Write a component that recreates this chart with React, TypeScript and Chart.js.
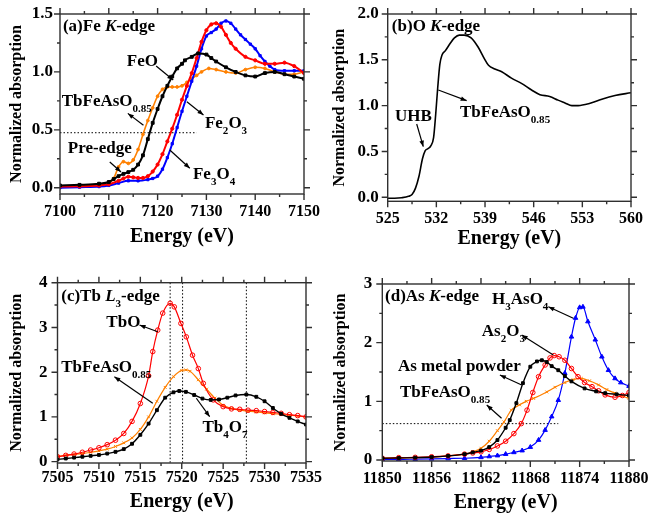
import React, { useEffect, useRef } from 'react';
import { Chart, registerables } from 'chart.js';
Chart.register(...registerables);

const FONT = '"Liberation Serif", "Times New Roman", serif';
const BLACK = '#000000';
const RED = '#ff0000';
const BLUE = '#0000ff';
const ORANGE = '#ff8000';

// ---------- Panel (a) Fe K-edge ----------
const aXTicks = [7100, 7110, 7120, 7130, 7140, 7150];
const aXMinor = [7105, 7115, 7125, 7135, 7145];
const aYTicks = [0.0, 0.5, 1.0, 1.5];
const aYMinor = [0.25, 0.75, 1.25];
const aFeOX = [7100, 7104, 7108, 7110, 7111, 7112, 7113, 7114, 7115, 7116, 7117, 7118, 7119, 7120, 7121, 7122, 7123, 7124, 7125, 7125.6, 7127, 7128.3, 7130, 7131, 7132, 7134, 7136, 7138, 7140, 7142, 7144, 7146, 7148, 7150];
const aFeOY = [0.02, 0.025, 0.035, 0.05, 0.075, 0.10, 0.12, 0.135, 0.155, 0.20, 0.28, 0.42, 0.56, 0.68, 0.79, 0.88, 0.96, 1.03, 1.07, 1.10, 1.13, 1.16, 1.15, 1.12, 1.09, 1.04, 1.0, 0.97, 0.96, 0.99, 1.0, 0.98, 0.96, 0.94];
const aTbX = [7100, 7104, 7108, 7110, 7111, 7112, 7113, 7114, 7115, 7116, 7117, 7118, 7119, 7120, 7121, 7122, 7123, 7124, 7125, 7126, 7127, 7128, 7129, 7130.5, 7132, 7134, 7136, 7138, 7140, 7142, 7144, 7146, 7148, 7150];
const aTbY = [0.01, 0.015, 0.025, 0.04, 0.08, 0.18, 0.225, 0.21, 0.24, 0.33, 0.46, 0.58, 0.69, 0.79, 0.85, 0.87, 0.87, 0.87, 0.88, 0.91, 0.94, 0.97, 1.0, 1.03, 1.02, 1.0, 0.99, 1.02, 1.04, 1.03, 1.0, 0.98, 0.98, 1.0];
const aFe2O3X = [7100, 7104, 7108, 7110, 7112, 7113, 7114, 7115, 7116, 7117, 7118, 7119, 7120, 7121, 7122, 7123, 7124, 7125, 7126, 7127, 7128, 7129, 7130, 7131, 7132, 7133, 7134, 7135, 7136, 7138, 7140, 7142, 7144, 7146, 7148, 7150];
const aFe2O3Y = [0.01, 0.012, 0.02, 0.03, 0.06, 0.08, 0.095, 0.09, 0.085, 0.085, 0.1, 0.14, 0.2, 0.29, 0.4, 0.51, 0.63, 0.76, 0.88, 0.99, 1.12, 1.26, 1.36, 1.41, 1.42, 1.39, 1.32, 1.25, 1.2, 1.13, 1.1, 1.07, 1.07, 1.08, 1.05, 0.99];
const aFe3O4X = [7100, 7104, 7108, 7110, 7112, 7114, 7116, 7118, 7119, 7120, 7121, 7122, 7123, 7124, 7125, 7126, 7127, 7128, 7129, 7130, 7131, 7132, 7133, 7134, 7135, 7136, 7137, 7138, 7139, 7140, 7141, 7142, 7143, 7144, 7146, 7148, 7150];
const aFe3O4Y = [0.0, 0.005, 0.01, 0.02, 0.04, 0.06, 0.06, 0.07, 0.08, 0.1, 0.16, 0.26, 0.38, 0.52, 0.66, 0.79, 0.92, 1.05, 1.2, 1.31, 1.34, 1.37, 1.42, 1.44, 1.42, 1.37, 1.32, 1.28, 1.24, 1.2, 1.14, 1.09, 1.05, 1.02, 1.01, 1.01, 1.01];

// ---------- Panel (b) O K-edge ----------
const bXTicks = [525, 532, 539, 546, 553, 560];
const bXMinor = [528.5, 535.5, 542.5, 549.5, 556.5];
const bYTicks = [0.0, 0.5, 1.0, 1.5, 2.0];
const bYMinor = [0.25, 0.75, 1.25, 1.75];
const bX = [525, 526, 527, 528, 528.5, 529, 529.5, 530, 530.4, 530.8, 531.2, 531.6, 531.9, 532.2, 532.5, 532.8, 533.3, 534, 534.6, 535.3, 536, 537, 538, 539, 539.5, 540.4, 541.4, 542.8, 544.3, 545.7, 546.9, 548.3, 549.5, 550.5, 551.5, 552.4, 553.9, 555.8, 557.7, 560];
const bY = [-0.01, -0.01, -0.005, 0.01, 0.03, 0.1, 0.23, 0.42, 0.51, 0.53, 0.56, 0.65, 0.9, 1.2, 1.45, 1.55, 1.6, 1.68, 1.74, 1.77, 1.77, 1.74, 1.64, 1.5, 1.44, 1.4, 1.37, 1.3, 1.24, 1.17, 1.12, 1.1, 1.06, 1.03, 1.0, 1.0, 1.02, 1.07, 1.11, 1.14];

// ---------- Panel (c) Tb L3-edge ----------
const cXTicks = [7505, 7510, 7515, 7520, 7525, 7530, 7535];
const cXMinor = [7507.5, 7512.5, 7517.5, 7522.5, 7527.5, 7532.5];
const cYTicks = [0, 1, 2, 3, 4];
const cYMinor = [0.5, 1.5, 2.5, 3.5];
const cTbOX = [7505, 7506, 7507, 7508, 7509, 7510, 7511, 7512, 7513, 7514, 7515, 7516, 7516.5, 7517.1, 7517.7, 7518.6, 7519.1, 7519.9, 7520.55, 7521.3, 7522, 7522.6, 7523.8, 7525, 7526, 7527, 7528, 7529, 7530, 7531, 7532, 7533, 7534, 7535];
const cTbOY = [0.11, 0.14, 0.17, 0.21, 0.26, 0.31, 0.38, 0.48, 0.63, 0.9, 1.3, 1.92, 2.46, 2.94, 3.32, 3.54, 3.46, 3.09, 2.79, 2.38, 2.08, 1.75, 1.38, 1.23, 1.18, 1.17, 1.15, 1.14, 1.12, 1.1, 1.08, 1.05, 1.03, 1.0];
const cTbFeX = [7505, 7506, 7507, 7508, 7509, 7510, 7511, 7512, 7513, 7514, 7515, 7516, 7517, 7518, 7519, 7520, 7520.5, 7521, 7522, 7523, 7524, 7525, 7526, 7527, 7528, 7529, 7530, 7531, 7532, 7533, 7534, 7535];
const cTbFeY = [0.12, 0.14, 0.16, 0.18, 0.21, 0.24, 0.28, 0.34, 0.42, 0.53, 0.72, 1.0, 1.35, 1.66, 1.9, 2.04, 2.05, 2.02, 1.83, 1.62, 1.42, 1.26, 1.19, 1.15, 1.13, 1.11, 1.09, 1.07, 1.06, 1.04, 1.02, 1.0];
const cTb4O7X = [7505, 7506, 7507, 7508, 7509, 7510, 7511, 7512, 7513, 7514, 7515, 7516, 7517, 7518, 7519, 7519.7, 7520.5, 7521.5, 7522.5, 7523.5, 7524.5, 7525.5, 7526.5, 7527.8, 7529, 7530, 7531, 7532, 7533, 7534, 7535];
const cTb4O7Y = [0.05, 0.07, 0.09, 0.11, 0.13, 0.15, 0.18, 0.22, 0.28, 0.4, 0.6, 0.85, 1.15, 1.43, 1.55, 1.58, 1.56, 1.49, 1.41, 1.38, 1.39, 1.43, 1.48, 1.5, 1.45, 1.35, 1.2, 1.07, 0.98, 0.9, 0.83];

// ---------- Panel (d) As K-edge ----------
const dXTicks = [11850, 11856, 11862, 11868, 11874, 11880];
const dXMinor = [11853, 11859, 11865, 11871, 11877];
const dYTicks = [0, 1, 2, 3];
const dYMinor = [0.5, 1.5, 2.5];
const dH3X = [11850, 11852, 11854, 11856, 11858, 11860, 11862, 11863, 11864, 11865, 11866, 11867, 11868, 11869, 11869.8, 11870.6, 11871.4, 11872.2, 11873, 11873.5, 11874, 11874.4, 11875, 11875.9, 11876.7, 11877.5, 11878.3, 11879, 11880];
const dH3Y = [0.01, 0.01, 0.015, 0.02, 0.025, 0.03, 0.045, 0.06, 0.075, 0.1, 0.13, 0.16, 0.22, 0.34, 0.51, 0.74, 1.02, 1.48, 2.1, 2.42, 2.6, 2.61, 2.36, 2.05, 1.76, 1.53, 1.39, 1.32, 1.26];
const dAs2O3X = [11850, 11852, 11854, 11856, 11858, 11860, 11861, 11862, 11863, 11864, 11865, 11866, 11866.9, 11867.6, 11868.3, 11869, 11869.8, 11870.4, 11870.9, 11871.5, 11872.2, 11873, 11873.8, 11874.6, 11875.5, 11876.3, 11877.1, 11878.3, 11879.2, 11880];
const dAs2O3Y = [0.03, 0.04, 0.045, 0.055, 0.07, 0.1, 0.12, 0.14, 0.18, 0.24, 0.32, 0.45, 0.62, 0.85, 1.15, 1.42, 1.62, 1.74, 1.78, 1.76, 1.7, 1.56, 1.42, 1.32, 1.25, 1.18, 1.11, 1.07, 1.1, 1.15];
const dMetalX = [11850, 11852, 11854, 11856, 11858, 11860, 11861, 11862, 11863, 11864, 11865, 11865.5, 11866.3, 11867.1, 11868, 11868.8, 11869.4, 11870, 11870.6, 11871.4, 11872.2, 11873, 11874.6, 11876, 11877.1, 11878.5, 11880];
const dMetalY = [0.03, 0.035, 0.04, 0.05, 0.07, 0.1, 0.13, 0.16, 0.22, 0.34, 0.55, 0.68, 0.97, 1.31, 1.59, 1.68, 1.7, 1.67, 1.6, 1.53, 1.43, 1.34, 1.22, 1.17, 1.14, 1.12, 1.1];
const dTbX = [11850, 11854, 11856, 11858, 11860, 11861, 11862, 11863, 11864, 11864.8, 11865.7, 11866.7, 11867.5, 11868.4, 11870, 11871, 11872.2, 11873.2, 11874.2, 11875.2, 11876.3, 11877.3, 11878.3, 11879.2, 11880];
const dTbY = [0.03, 0.04, 0.05, 0.07, 0.1, 0.14, 0.2, 0.32, 0.5, 0.65, 0.85, 0.94, 1.0, 1.05, 1.16, 1.24, 1.32, 1.37, 1.39, 1.35, 1.28, 1.2, 1.14, 1.09, 1.05];

type Part = [string, 'n' | 'i' | 's'];
type Label = { x: number; y: number; parts: Part[]; size?: number };
type Arrow = { x1: number; y1: number; x2: number; y2: number; head: 'start' | 'end' };
type Series = { x: number[]; y: number[]; color: string; style: string; r: number; open?: boolean; w: number };
type Panel = {
  box: [number, number, number, number];
  area: [number, number, number, number];
  xMin: number; xMax: number; yMin: number; yMax: number;
  xMajor: number[]; xMinor: number[]; yMajor: number[]; yMinor: number[]; yDec: number;
  xTitleY: number; yTitleX: number; xLabPad: number; yLabPad: number;
  series: Series[]; labels: Label[]; arrows: Arrow[];
  hLines: { y: number; x1: number; x2: number }[]; vLines: number[];
};

const TBFE: Part[] = [['TbFeAsO', 'n'], ['0.85', 's']];

const panels: Panel[] = [
  {
    box: [0, 0, 325, 260], area: [60, 14, 304, 194],
    xMin: 7100, xMax: 7150, yMin: -0.054, yMax: 1.5,
    xMajor: aXTicks, xMinor: aXMinor, yMajor: aYTicks, yMinor: aYMinor, yDec: 1,
    xTitleY: 237, yTitleX: 16.7, xLabPad: 8, yLabPad: 7,
    series: [
      { x: aFeOX, y: aFeOY, color: BLACK, style: 'rect', r: 2, w: 2 },
      { x: aFe2O3X, y: aFe2O3Y, color: RED, style: 'circle', r: 1.6, w: 2 },
      { x: aFe3O4X, y: aFe3O4Y, color: BLUE, style: 'rect', r: 1.6, w: 2 },
      { x: aTbX, y: aTbY, color: ORANGE, style: 'circle', r: 1.4, w: 1.6 },
    ],
    labels: [
      { x: 7100.6, y: 1.405, parts: [['(a)Fe ', 'n'], ['K', 'i'], ['-edge', 'n']] },
      { x: 7113.7, y: 1.103, parts: [['FeO', 'n']] },
      { x: 7100.35, y: 0.757, parts: TBFE },
      { x: 7129.7, y: 0.567, parts: [['Fe', 'n'], ['2', 's'], ['O', 'n'], ['3', 's']] },
      { x: 7127.25, y: 0.127, parts: [['Fe', 'n'], ['3', 's'], ['O', 'n'], ['4', 's']] },
      { x: 7101.6, y: 0.351, parts: [['Pre-edge', 'n']] },
    ],
    arrows: [
      { x1: 7119.7, y1: 1.051, x2: 7123.2, y2: 0.93, head: 'end' },
      { x1: 7113.9, y1: 0.642, x2: 7117.1, y2: 0.54, head: 'start' },
      { x1: 7126.0, y1: 0.743, x2: 7129.4, y2: 0.628, head: 'end' },
      { x1: 7122.5, y1: 0.326, x2: 7126.6, y2: 0.168, head: 'end' },
      { x1: 7110.2, y1: 0.222, x2: 7112.5, y2: 0.136, head: 'end' },
    ],
    hLines: [{ y: 0.475, x1: 7100, x2: 7128 }], vLines: [],
  },
  {
    box: [325, 0, 324, 260], area: [387.7, 14, 631, 201.3],
    xMin: 525, xMax: 560, yMin: -0.044, yMax: 2.0,
    xMajor: bXTicks, xMinor: bXMinor, yMajor: bYTicks, yMinor: bYMinor, yDec: 1,
    xTitleY: 239, yTitleX: 340, xLabPad: 8, yLabPad: 9,
    series: [{ x: bX, y: bY, color: BLACK, style: 'circle', r: 0, w: 1.6 }],
    labels: [
      { x: 525.6, y: 1.88, parts: [['(b)O ', 'n'], ['K', 'i'], ['-edge', 'n']] },
      { x: 526.05, y: 0.898, parts: [['UHB', 'n']] },
      { x: 535.4, y: 0.934, parts: TBFE },
    ],
    arrows: [
      { x1: 529.17, y1: 0.80, x2: 530.12, y2: 0.552, head: 'end' },
      { x1: 532.28, y1: 1.171, x2: 536.36, y2: 1.054, head: 'end' },
    ],
    hLines: [], vLines: [],
  },
  {
    box: [0, 260, 325, 259], area: [57.5, 282.7, 306, 463],
    xMin: 7505, xMax: 7535, yMin: -0.03, yMax: 4,
    xMajor: cXTicks, xMinor: cXMinor, yMajor: cYTicks, yMinor: cYMinor, yDec: 0,
    xTitleY: 501.5, yTitleX: 16.7, xLabPad: 5, yLabPad: 10,
    series: [
      { x: cTb4O7X, y: cTb4O7Y, color: BLACK, style: 'rect', r: 2, w: 1.4 },
      { x: cTbOX, y: cTbOY, color: RED, style: 'circle', r: 2.3, open: true, w: 1.2 },
      { x: cTbFeX, y: cTbFeY, color: ORANGE, style: 'crossRot', r: 2, w: 1.2 },
    ],
    labels: [
      { x: 7505.45, y: 3.725, parts: [['(c)Tb ', 'n'], ['L', 'i'], ['3', 's'], ['-edge', 'n']] },
      { x: 7510.9, y: 3.128, parts: [['TbO', 'n']] },
      { x: 7505.45, y: 2.123, parts: TBFE },
      { x: 7522.5, y: 0.782, parts: [['Tb', 'n'], ['4', 's'], ['O', 'n'], ['7', 's']] },
    ],
    arrows: [
      { x1: 7514.9, y1: 3.054, x2: 7517.1, y2: 2.905, head: 'start' },
      { x1: 7511.87, y1: 1.899, x2: 7516.5, y2: 1.305, head: 'start' },
      { x1: 7521.76, y1: 1.417, x2: 7523.37, y2: 1.006, head: 'end' },
    ],
    hLines: [], vLines: [7518.6, 7520.1, 7527.8],
  },
  {
    box: [325, 260, 324, 259], area: [382.3, 284, 629, 461],
    xMin: 11850, xMax: 11880, yMin: -0.017, yMax: 3,
    xMajor: dXTicks, xMinor: dXMinor, yMajor: dYTicks, yMinor: dYMinor, yDec: 0,
    xTitleY: 502.5, yTitleX: 340.5, xLabPad: 8, yLabPad: 10,
    series: [
      { x: dMetalX, y: dMetalY, color: BLACK, style: 'rect', r: 2, w: 1.4 },
      { x: dAs2O3X, y: dAs2O3Y, color: RED, style: 'circle', r: 2.3, open: true, w: 1.2 },
      { x: dTbX, y: dTbY, color: ORANGE, style: 'crossRot', r: 2, w: 1.2 },
      { x: dH3X, y: dH3Y, color: BLUE, style: 'triangle', r: 2.6, w: 1.2 },
    ],
    labels: [
      { x: 11850.33, y: 2.81, parts: [['(d)As ', 'n'], ['K', 'i'], ['-edge', 'n']] },
      { x: 11863.34, y: 2.76, parts: [['H', 'n'], ['3', 's'], ['AsO', 'n'], ['4', 's']] },
      { x: 11862.1, y: 2.216, parts: [['As', 'n'], ['2', 's'], ['O', 'n'], ['3', 's']] },
      { x: 11851.9, y: 1.62, parts: [['As metal powder', 'n']] },
      { x: 11852.15, y: 1.164, parts: TBFE },
    ],
    arrows: [
      { x1: 11870.19, y1: 2.613, x2: 11873.23, y2: 2.415, head: 'start' },
      { x1: 11866.95, y1: 2.13, x2: 11870.8, y2: 1.79, head: 'start' },
      { x1: 11864.3, y1: 1.449, x2: 11866.95, y2: 1.278, head: 'start' },
      { x1: 11862.7, y1: 0.937, x2: 11864.5, y2: 0.711, head: 'start' },
    ],
    hLines: [{ y: 0.62, x1: 11850, x2: 11871.4 }], vLines: [],
  },
];

function drawRich(ctx: CanvasRenderingContext2D, x: number, yMid: number, parts: Part[], size: number) {
  let cx = x;
  const base = yMid + size * 0.33;
  ctx.textBaseline = 'alphabetic';
  ctx.textAlign = 'left';
  ctx.fillStyle = '#000';
  for (const [t, s] of parts) {
    const fs = s === 's' ? size * 0.65 : size;
    ctx.font = `${s === 'i' ? 'italic ' : ''}bold ${fs}px ${FONT}`;
    const dy = s === 's' ? size * 0.35 : 0;
    ctx.fillText(t, cx, base + dy);
    cx += ctx.measureText(t).width;
  }
}

function makePlugin(p: Panel) {
  return {
    id: 'deco',
    beforeDatasetsDraw(chart: any) {
      const { ctx, chartArea: a, scales } = chart;
      const xs = scales.x, ys = scales.y;
      ctx.save();
      ctx.strokeStyle = '#000';
      ctx.lineWidth = 1;
      ctx.setLineDash([1.5, 2]);
      for (const h of p.hLines) {
        const py = ys.getPixelForValue(h.y);
        ctx.beginPath();
        ctx.moveTo(xs.getPixelForValue(h.x1), py);
        ctx.lineTo(xs.getPixelForValue(h.x2), py);
        ctx.stroke();
      }
      for (const v of p.vLines) {
        const px = xs.getPixelForValue(v);
        ctx.beginPath();
        ctx.moveTo(px, a.top);
        ctx.lineTo(px, a.bottom);
        ctx.stroke();
      }
      ctx.restore();
    },
    afterDraw(chart: any) {
      const { ctx, chartArea: a, scales } = chart;
      const xs = scales.x, ys = scales.y;
      ctx.save();
      ctx.strokeStyle = '#303030';
      ctx.lineWidth = 1.4;
      ctx.setLineDash([]);
      ctx.strokeRect(a.left, a.top, a.right - a.left, a.bottom - a.top);
      const tickX = (v: number, len: number) => {
        const px = xs.getPixelForValue(v);
        ctx.beginPath();
        ctx.moveTo(px, a.bottom); ctx.lineTo(px, a.bottom + len);
        ctx.moveTo(px, a.top); ctx.lineTo(px, a.top - len);
        ctx.stroke();
      };
      const tickY = (v: number, len: number) => {
        const py = ys.getPixelForValue(v);
        ctx.beginPath();
        ctx.moveTo(a.left, py); ctx.lineTo(a.left - len, py);
        ctx.moveTo(a.right, py); ctx.lineTo(a.right + len, py);
        ctx.stroke();
      };
      p.xMajor.forEach(v => tickX(v, 6));
      p.xMinor.forEach(v => tickX(v, 3));
      p.yMajor.forEach(v => tickY(v, 6));
      p.yMinor.forEach(v => tickY(v, 3));
      ctx.strokeStyle = '#000';
      ctx.fillStyle = '#000';
      ctx.lineWidth = 1.2;
      for (const ar of p.arrows) {
        const x1 = xs.getPixelForValue(ar.x1), y1 = ys.getPixelForValue(ar.y1);
        const x2 = xs.getPixelForValue(ar.x2), y2 = ys.getPixelForValue(ar.y2);
        ctx.beginPath(); ctx.moveTo(x1, y1); ctx.lineTo(x2, y2); ctx.stroke();
        const [hx, hy, tx, ty] = ar.head === 'end' ? [x2, y2, x1, y1] : [x1, y1, x2, y2];
        const ang = Math.atan2(hy - ty, hx - tx);
        const L = 6, W = 2.3;
        ctx.beginPath();
        ctx.moveTo(hx, hy);
        ctx.lineTo(hx - L * Math.cos(ang) + W * Math.sin(ang), hy - L * Math.sin(ang) - W * Math.cos(ang));
        ctx.lineTo(hx - L * Math.cos(ang) - W * Math.sin(ang), hy - L * Math.sin(ang) + W * Math.cos(ang));
        ctx.closePath(); ctx.fill();
      }
      for (const lb of p.labels) {
        drawRich(ctx, xs.getPixelForValue(lb.x), ys.getPixelForValue(lb.y), lb.parts, lb.size ?? 17);
      }
      ctx.restore();
    },
  };
}

function PanelChart({ p }: { p: Panel }) {
  const ref = useRef<HTMLCanvasElement>(null);
  useEffect(() => {
    const [cx, cy, cw, ch] = p.box;
    const [L, T, R, B] = p.area;
    const xlh = 20 * 1.2, ylh = 16 * 1.2;
    const chart = new Chart(ref.current as HTMLCanvasElement, {
      type: 'scatter',
      data: {
        datasets: p.series.map(s => ({
          data: s.x.map((x, i) => ({ x, y: s.y[i] })),
          showLine: true,
          borderColor: s.color,
          borderWidth: s.w,
          pointStyle: s.style as any,
          pointRadius: s.r,
          pointBorderColor: s.color,
          pointBackgroundColor: s.open ? 'rgba(0,0,0,0)' : s.color,
          pointBorderWidth: 1,
          cubicInterpolationMode: 'monotone' as const,
          fill: false,
        })),
      },
      options: {
        animation: false,
        responsive: false,
        maintainAspectRatio: false,
        events: [],
        layout: { padding: { left: 0, top: T - cy, right: cx + cw - R, bottom: 0 } },
        plugins: { legend: { display: false }, tooltip: { enabled: false } },
        scales: {
          x: {
            type: 'linear', position: 'bottom', min: p.xMin, max: p.xMax,
            grid: { display: false, drawTicks: false }, border: { display: false },
            afterBuildTicks: (s: any) => { s.ticks = p.xMajor.map(v => ({ value: v })); },
            afterFit: (s: any) => { s.height = cy + ch - B; s.paddingLeft = 0; s.paddingRight = 0; },
            ticks: { font: { family: FONT, size: 16, weight: 'bold' }, color: '#000', padding: p.xLabPad, maxRotation: 0, autoSkip: false, callback: (v: any) => String(v) },
            title: { display: true, text: 'Energy (eV)', color: '#000', font: { family: FONT, size: 20, weight: 'bold' }, padding: { top: 0, bottom: cy + ch - p.xTitleY - xlh / 2 } },
          },
          y: {
            type: 'linear', position: 'left', min: p.yMin, max: p.yMax,
            grid: { display: false, drawTicks: false }, border: { display: false },
            afterBuildTicks: (s: any) => { s.ticks = p.yMajor.map(v => ({ value: v })); },
            afterFit: (s: any) => { s.width = L - cx; s.paddingTop = 0; s.paddingBottom = 0; },
            ticks: { font: { family: FONT, size: 17, weight: 'bold' }, color: '#000', padding: p.yLabPad, autoSkip: false, callback: (v: any) => Number(v).toFixed(p.yDec) },
            title: { display: true, text: 'Normalized absorption', color: '#000', font: { family: FONT, size: 16, weight: 'bold' }, padding: { top: p.yTitleX - cx - ylh / 2, bottom: 0 } },
          },
        },
      } as any,
      plugins: [makePlugin(p)],
    });
    return () => chart.destroy();
  }, []);
  return (
    <canvas
      ref={ref}
      width={p.box[2]}
      height={p.box[3]}
      style={{ position: 'absolute', left: p.box[0], top: p.box[1], width: p.box[2], height: p.box[3] }}
    />
  );
}

export default function App() {
  return (
    <div style={{ position: 'absolute', left: 0, top: 0, width: 649, height: 519, background: '#fff', overflow: 'hidden' }}>
      {panels.map((p, i) => <PanelChart key={i} p={p} />)}
    </div>
  );
}
